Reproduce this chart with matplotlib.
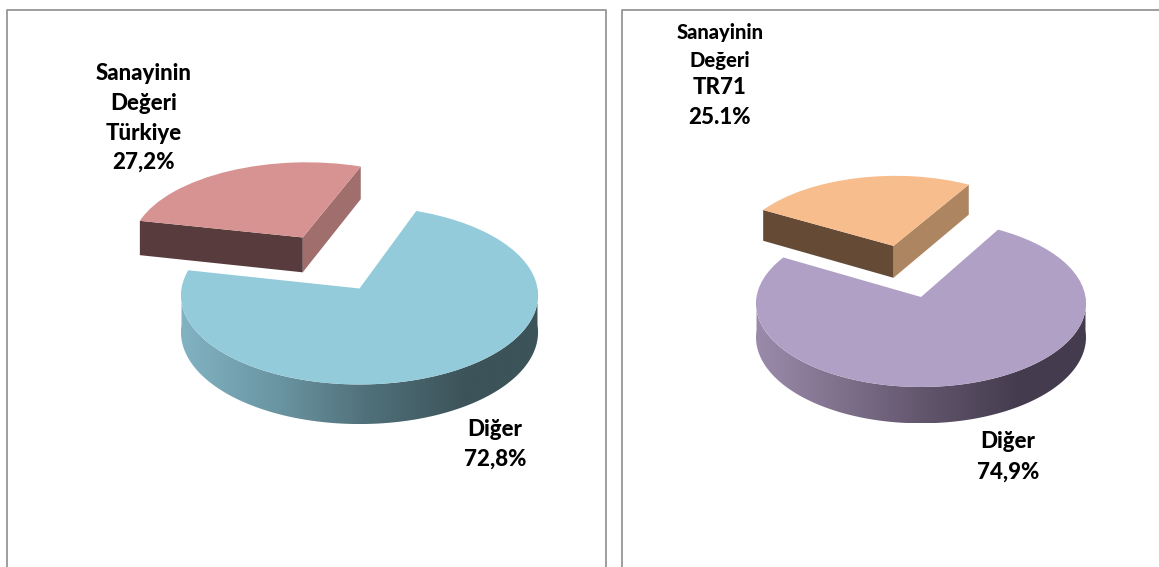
import numpy as np
import matplotlib
matplotlib.use("Agg")
import matplotlib.pyplot as plt
from matplotlib.colors import LinearSegmentedColormap
from matplotlib.patches import Polygon
from matplotlib.transforms import Transform

plt.rcParams['font.family'] = ['Lato', 'DejaVu Sans']

W, H = 1159, 567

# shares
turkiye_shares = [27.2, 72.8]
tr71_shares = [25.1, 74.9]

turkiye_labels = ["Sanayinin", "Değeri", "Türkiye", "27,2%"]
turkiye_other = ["Diğer", "72,8%"]
tr71_labels = ["Sanayinin", "Değeri", "TR71", "25.1%"]
tr71_other = ["Diğer", "74,9%"]


class Tilt(Transform):
    # unit circle of the pie -> pixels, with the back of the disc pushed away
    input_dims = output_dims = 2

    def __init__(self, cx, cy, rx, ry, k=0.0778):
        super().__init__()
        self.cx, self.cy, self.rx, self.ry, self.k = cx, cy, rx, ry, k

    def transform_non_affine(self, xy):
        xy = np.asarray(xy, float)
        w = 1 + self.k * xy[:, 1]
        return np.column_stack([self.cx + self.rx * xy[:, 0] / w, self.cy - self.ry * xy[:, 1] / w])


def draw_pie(shares, start, explode, tilt, depth, top, front, side, wall):
    ax = fig.add_axes([0, 0, 1, 1])
    wedges, _ = ax.pie(shares, startangle=start, explode=[explode, 0], colors=top,
                       wedgeprops={'linewidth': 0, 'transform': tilt + ax.transData})
    ax.set_aspect('auto')
    ax.patch.set_alpha(0)
    ax.set_axis_off()

    def drop(pts):
        # top outline -> same outline on the bottom of the disc, in pixels
        pts = np.asarray(pts, float)
        p = tilt.transform(pts)
        p[:, 1] += depth / (1 + tilt.k * pts[:, 1])
        return p

    # cut faces of the pulled out slice
    w = wedges[0]
    c = np.array(w.center)
    for th, col in ((w.theta1, side), (w.theta2, front)):
        e = c + [np.cos(np.radians(th)), np.sin(np.radians(th))]
        a = tilt.transform(np.array([c, e]))
        b = drop([e, c])
        ax.add_patch(Polygon(np.vstack([a, b]), closed=True, color=col, lw=0, zorder=1))

    # outer wall of the big slice, only the part facing us
    th = np.radians(np.linspace(180, 360, 181))
    arc = np.column_stack([np.cos(th), np.sin(th)])
    outline = np.vstack([tilt.transform(arc), drop(arc)[::-1]])
    clip = Polygon(outline, closed=True, transform=ax.transData, fc='none', lw=0)
    ax.add_patch(clip)
    cmap = LinearSegmentedColormap.from_list("wall", wall)
    grad = np.linspace(0, 1, 512).reshape(1, -1)
    x0, x1 = outline[:, 0].min(), outline[:, 0].max()
    x_end = x0 + 0.8 * (x1 - x0)
    im = ax.imshow(np.clip(grad * (x1 - x0) / (x_end - x0), 0, 1), cmap=cmap, aspect='auto',
                   vmin=0, vmax=1, extent=[x0, x1, outline[:, 1].max(), outline[:, 1].min()], zorder=2)
    im.set_clip_path(clip)
    for p in wedges:
        p.set_zorder(3)
    ax.set_aspect('auto')
    ax.set_xlim(0, W)
    ax.set_ylim(H, 0)
    return ax


fig = plt.figure(figsize=(W / 100, H / 100), dpi=100, facecolor='white')

draw_pie(turkiye_shares, 70, 0.69, Tilt(359.5, 288.5, 178, 88.5), 36.5,
         ['#d79392', '#93cbdb'], '#583b3c', '#a06e6c', ['#82b3c3', '#6a95a2', '#4f6f78', '#3c5359'])
draw_pie(tr71_shares, 60, 0.67, Tilt(921, 297, 164.5, 83), 33.5,
         ['#f7bd8c', '#b1a0c6'], '#654b36', '#ae8561', ['#9b8bab', '#7e6f8b', '#5f5369', '#443c4e'])

# overlay in pixel coordinates for the frames and labels
over = fig.add_axes([0, 0, 1, 1])
over.set_xlim(0, W)
over.set_ylim(H, 0)
over.patch.set_alpha(0)
over.set_axis_off()

frame = '#969696'
over.plot([6.5, 6.5, 605.5, 605.5], [H + 2, 9.5, 9.5, H + 2], color=frame, lw=1.3)
over.plot([621.5, 621.5, W + 2], [H + 2, 9.5, 9.5], color=frame, lw=1.3)

big = 16
small = 14.5
for txt, y in zip(turkiye_labels, [74, 103, 133, 162]):
    over.text(144, y, txt, ha='center', va='center', fontsize=big, fontweight=900, color='black')
for txt, y in zip(turkiye_other, [429, 459]):
    over.text(495, y, txt, ha='center', va='center', fontsize=big, fontweight=900, color='black')
for txt, y, s in zip(tr71_labels, [33, 60, 88, 117], [small, small, big, big]):
    over.text(720, y, txt, ha='center', va='center', fontsize=s, fontweight=900, color='black')
for txt, y in zip(tr71_other, [442, 472]):
    over.text(1008, y, txt, ha='center', va='center', fontsize=big, fontweight=900, color='black')

fig.savefig("out.png", dpi=100)
